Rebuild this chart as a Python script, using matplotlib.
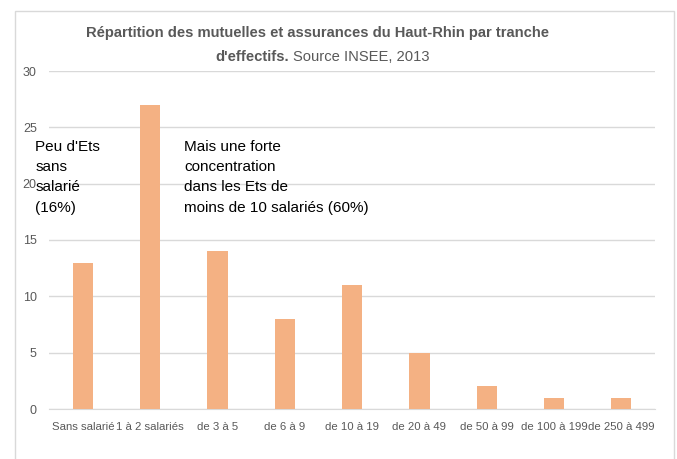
import matplotlib.pyplot as plt
from matplotlib.patches import Rectangle

plt.rcParams['font.family'] = ['Liberation Sans', 'DejaVu Sans']

categories = ['Sans salarié', '1 à 2 salariés', 'de 3 à 5', 'de 6 à 9', 'de 10 à 19',
              'de 20 à 49', 'de 50 à 99', 'de 100 à 199', 'de 250 à 499']
values = [13, 27, 14, 8, 11, 5, 2, 1, 1]
y_ticks = [0, 5, 10, 15, 20, 25, 30]

title_line1 = "Répartition des mutuelles et assurances du Haut-Rhin par tranche"
title_bold2 = "d'effectifs."
title_norm2 = "Source INSEE, 2013"
note_left = "Peu d'Ets\nsans\nsalarié\n(16%)"
note_right = "Mais une forte\nconcentration\ndans les Ets de\nmoins de 10 salariés (60%)"

W, H = 677, 459
fig = plt.figure(figsize=(W / 100, H / 100), dpi=100)
ax = fig.add_axes([49.3 / W, 1 - 409 / H, (655 - 49.3) / W, (409 - 71) / H])

text_color = '#595959'
grid_color = '#D9D9D9'
bar_color = '#F4B183'

x = range(len(categories))
ax.bar(x, values, width=0.30, color=bar_color, zorder=3)

ax.set_xlim(-0.5, len(categories) - 0.5)
ax.set_ylim(0, 30)
ax.set_yticks(y_ticks)
ax.set_xticks(list(x))
ax.set_xticklabels(categories, fontsize=8.2)
ax.yaxis.grid(True, color=grid_color, linewidth=1)
ax.set_axisbelow(True)
for s in ['top', 'right', 'left']:
    ax.spines[s].set_visible(False)
ax.spines['bottom'].set_color(grid_color)
ax.tick_params(axis='both', length=0, colors=text_color)
ax.tick_params(axis='y', pad=9, labelsize=9)
ax.tick_params(axis='x', pad=9)

ax.text(-0.71, 23.9, note_left, ha='left', va='top', fontsize=11,
        color='black', linespacing=1.57)
ax.text(1.5, 23.9, note_right, ha='left', va='top', fontsize=11,
        color='black', linespacing=1.57)

# title
fig.text(318 / W, 1 - 33 / H, title_line1, ha='center', va='center',
         fontsize=10.6, fontweight='bold', color=text_color)
fig.text(289 / W, 1 - 57 / H, title_bold2, ha='right', va='center',
         fontsize=10.6, fontweight='bold', color=text_color)
fig.text(293 / W, 1 - 57 / H, title_norm2, ha='left', va='center',
         fontsize=10.6, color=text_color)

# chart frame
fig.patches.append(Rectangle((15 / W, -0.05), (674 - 15) / W, 1.05 - 11 / H,
                             transform=fig.transFigure, fill=False,
                             edgecolor=grid_color, linewidth=1))

fig.savefig('out.png', dpi=100, facecolor='white')
